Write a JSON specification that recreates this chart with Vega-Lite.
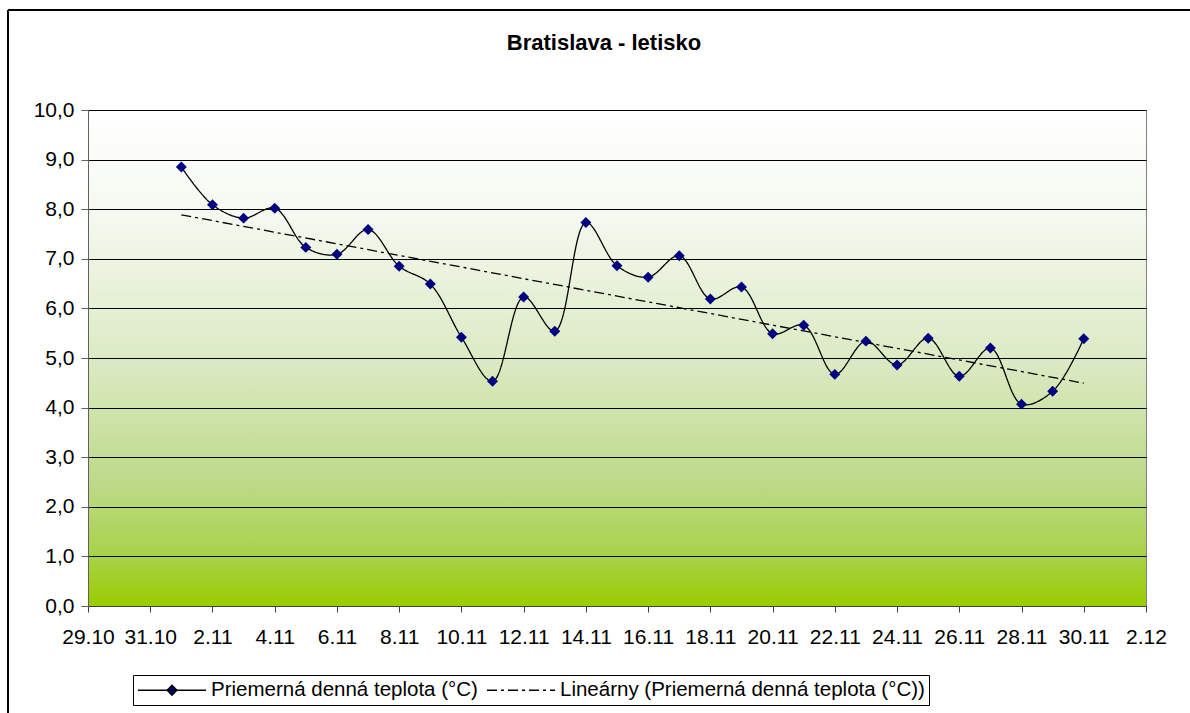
{
  "$schema": "https://vega.github.io/schema/vega-lite/v6.json",
  "width": 1058,
  "height": 496,
  "autosize": "none",
  "padding": {"left": 88, "top": 110, "right": 44, "bottom": 107},
  "background": "white",
  "view": {
    "stroke": "#808080",
    "strokeWidth": 1,
    "fill": {
      "gradient": "linear", "x1": 0, "y1": 0, "x2": 0, "y2": 1,
      "stops": [
        {"offset": 0, "color": "#FFFFFF"},
        {"offset": 0.2, "color": "#F6F9F1"},
        {"offset": 0.5, "color": "#DCEAC4"},
        {"offset": 0.75, "color": "#BDDA8A"},
        {"offset": 0.9, "color": "#A8D247"},
        {"offset": 1, "color": "#99CC00"}
      ]
    }
  },
  "title": {
    "text": "Bratislava - letisko",
    "font": "Liberation Sans",
    "fontSize": 22,
    "fontWeight": "bold",
    "color": "black",
    "anchor": "middle",
    "frame": "group",
    "baseline": "alphabetic",
    "offset": 27,
    "dy": 90,
    "dx": -13
  },
  "data": {
    "values": [
      {"date": "2012-11-01", "t": 8.85},
      {"date": "2012-11-02", "t": 8.09},
      {"date": "2012-11-03", "t": 7.82},
      {"date": "2012-11-04", "t": 8.02},
      {"date": "2012-11-05", "t": 7.23},
      {"date": "2012-11-06", "t": 7.09},
      {"date": "2012-11-07", "t": 7.59},
      {"date": "2012-11-08", "t": 6.85},
      {"date": "2012-11-09", "t": 6.49},
      {"date": "2012-11-10", "t": 5.42},
      {"date": "2012-11-11", "t": 4.53},
      {"date": "2012-11-12", "t": 6.23},
      {"date": "2012-11-13", "t": 5.54},
      {"date": "2012-11-14", "t": 7.73},
      {"date": "2012-11-15", "t": 6.86},
      {"date": "2012-11-16", "t": 6.63},
      {"date": "2012-11-17", "t": 7.06},
      {"date": "2012-11-18", "t": 6.19},
      {"date": "2012-11-19", "t": 6.43},
      {"date": "2012-11-20", "t": 5.49},
      {"date": "2012-11-21", "t": 5.66},
      {"date": "2012-11-22", "t": 4.67},
      {"date": "2012-11-23", "t": 5.34},
      {"date": "2012-11-24", "t": 4.86},
      {"date": "2012-11-25", "t": 5.40},
      {"date": "2012-11-26", "t": 4.63},
      {"date": "2012-11-27", "t": 5.20},
      {"date": "2012-11-28", "t": 4.07},
      {"date": "2012-11-29", "t": 4.33},
      {"date": "2012-11-30", "t": 5.39}
    ],
    "format": {"parse": {"date": "utc:'%Y-%m-%d'"}}
  },
  "encoding": {
    "x": {
      "field": "date",
      "type": "temporal",
      "title": null,
      "scale": {
        "type": "utc",
        "domain": [
          {"year": 2012, "month": 10, "date": 29, "utc": true},
          {"year": 2012, "month": 12, "date": 2, "utc": true}
        ],
        "nice": false
      },
      "axis": {
        "values": [
          {"year": 2012, "month": 10, "date": 29, "utc": true},
          {"year": 2012, "month": 10, "date": 31, "utc": true},
          {"year": 2012, "month": 11, "date": 2, "utc": true},
          {"year": 2012, "month": 11, "date": 4, "utc": true},
          {"year": 2012, "month": 11, "date": 6, "utc": true},
          {"year": 2012, "month": 11, "date": 8, "utc": true},
          {"year": 2012, "month": 11, "date": 10, "utc": true},
          {"year": 2012, "month": 11, "date": 12, "utc": true},
          {"year": 2012, "month": 11, "date": 14, "utc": true},
          {"year": 2012, "month": 11, "date": 16, "utc": true},
          {"year": 2012, "month": 11, "date": 18, "utc": true},
          {"year": 2012, "month": 11, "date": 20, "utc": true},
          {"year": 2012, "month": 11, "date": 22, "utc": true},
          {"year": 2012, "month": 11, "date": 24, "utc": true},
          {"year": 2012, "month": 11, "date": 26, "utc": true},
          {"year": 2012, "month": 11, "date": 28, "utc": true},
          {"year": 2012, "month": 11, "date": 30, "utc": true},
          {"year": 2012, "month": 12, "date": 2, "utc": true}
        ],
        "labelExpr": "utcFormat(datum.value, '%-d.%-m')",
        "grid": false,
        "labelFont": "Liberation Sans",
        "labelFontSize": 21,
        "labelColor": "black",
        "labelPadding": 14,
        "labelOverlap": false,
        "labelFlush": false,
        "tickSize": 6,
        "tickColor": "#404040",
        "domainColor": "#404040",
        "labelBound": false
      }
    },
    "y": {
      "field": "t",
      "type": "quantitative",
      "title": null,
      "scale": {"domain": [0, 10], "nice": false, "zero": true},
      "axis": {
        "values": [0, 1, 2, 3, 4, 5, 6, 7, 8, 9, 10],
        "format": ".1f",
        "grid": true,
        "gridColor": "black",
        "gridWidth": 1,
        "labelFont": "Liberation Sans",
        "labelFontSize": 21,
        "labelColor": "black",
        "labelPadding": 7,
        "tickSize": 7,
        "tickColor": "#606060",
        "domainColor": "#606060",
        "labelFlush": false,
        "labelOverlap": false
      }
    }
  },
  "layer": [
    {
      "transform": [{"regression": "t", "on": "date"}],
      "mark": {"type": "line", "color": "black", "strokeWidth": 1.3},
      "encoding": {
        "strokeDash": {
          "datum": "Lineárny (Priemerná denná teplota (°C))",
          "type": "nominal",
          "scale": {
            "domain": ["Priemerná denná teplota (°C)", "Lineárny (Priemerná denná teplota (°C))"],
            "range": [[1, 0], [10, 4, 3, 4]]
          },
          "legend": {
            "orient": "none",
            "legendX": 45,
            "legendY": 565,
            "direction": "horizontal",
            "columns": 2,
            "title": null,
            "strokeColor": "black",
            "fillColor": "white",
            "padding": 4,
            "labelFont": "Liberation Sans",
            "labelFontSize": 20.5,
            "labelColor": "black",
            "labelLimit": 0,
            "symbolSize": 400,
            "symbolType": "M-1,0H5.8",
            "symbolStrokeColor": "black",
            "symbolStrokeWidth": 1.3,
            "labelOffset": 52,
            "columnPadding": 6,
            "encode": {
              "symbols": {
                "update": {
                  "shape": {"signal": "datum.value === 'Priemerná denná teplota (°C)' ? 'M-1,0H5.8M1.9,0L2.4,-0.5L2.9,0L2.4,0.5Z' : 'M-1,0H5.8'"},
                  "fill": {"signal": "datum.value === 'Priemerná denná teplota (°C)' ? '#000080' : 'transparent'"},
                  "stroke": {"value": "black"},
                  "strokeWidth": {"value": 1.3},
                  "opacity": {"value": 1}
                }
              }
            }
          }
        }
      }
    },
    {
      "mark": {"type": "line", "interpolate": "catmull-rom", "color": "black", "strokeWidth": 1.3},
      "encoding": {
        "strokeDash": {"datum": "Priemerná denná teplota (°C)", "type": "nominal"}
      }
    },
    {
      "mark": {"type": "point", "shape": "diamond", "filled": true, "color": "#000080", "size": 120, "opacity": 1}
    },
    {
      "mark": {"type": "rule", "color": "black", "strokeWidth": 1.5},
      "encoding": {
        "x": {"datum": {"year": 2012, "month": 10, "date": 26, "hours": 10, "minutes": 17, "utc": true}, "type": "temporal"},
        "x2": {"datum": {"year": 2012, "month": 12, "date": 10, "utc": true}},
        "y": {"datum": 12.016, "type": "quantitative"}
      }
    },
    {
      "mark": {"type": "rule", "color": "black", "strokeWidth": 1.5},
      "encoding": {
        "x": {"datum": {"year": 2012, "month": 10, "date": 26, "hours": 10, "minutes": 17, "utc": true}, "type": "temporal"},
        "y": {"datum": 12.016, "type": "quantitative"},
        "y2": {"datum": -3}
      }
    }
  ],
  "config": {
    "locale": {
      "number": {"decimal": ",", "thousands": " ", "grouping": [3], "currency": ["", " €"]}
    }
  }
}
